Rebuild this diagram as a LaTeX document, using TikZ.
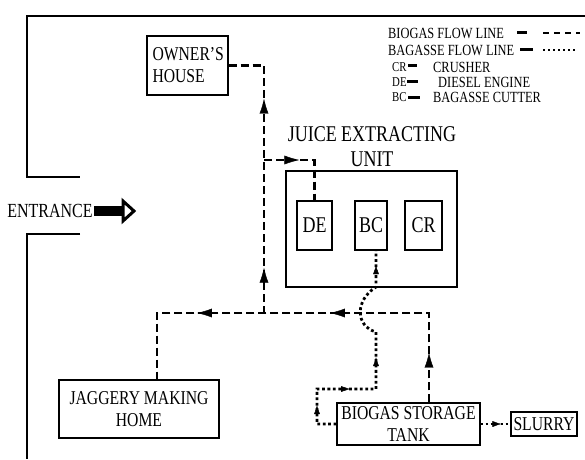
\documentclass[tikz,border=0pt]{standalone}
\usepackage{fontspec}
\setmainfont[FakeStretch=0.8]{Liberation Serif}
\usetikzlibrary{arrows.meta,decorations.markings}
\begin{document}
\begin{tikzpicture}[x=1pt,y=-1pt,
  box/.style={draw, line width=1.3pt, inner sep=0pt, align=center},
  main/.style={font=\fontsize{19.6}{22}\selectfont},
  big/.style={font=\fontsize{22.5}{25}\selectfont},
  leg/.style={font=\fontsize{15.5}{17}\selectfont, anchor=west, inner sep=0pt},
  legab/.style={font=\fontsize{13.5}{15}\selectfont, anchor=west, inner sep=0pt},
  gas/.style={line width=2.4pt, dash pattern=on 8pt off 4pt},
  bag/.style={line width=2.8pt, dash pattern=on 2.8pt off 2.6pt},
  slur/.style={line width=1.6pt, dash pattern=on 2pt off 3pt},
  legbar/.style={line width=3pt},
  arr/.style={postaction={decorate,decoration={markings,mark=at position #1 with {\arrow{Latex[length=15pt,width=9pt]}}}}},
  sarr/.style={postaction={decorate,decoration={markings,mark=at position #1 with {\arrow{Latex[length=9pt,width=6pt]}}}}}
]
\useasboundingbox (0,0) rectangle (585,459);

% outer boundary
\draw[line width=1.5pt] (585,16) -- (27,16) -- (27,177) -- (80,177);
\draw[line width=1.5pt] (80,234) -- (27,234) -- (27,459);

% entrance
\node[font=\fontsize{20}{22}\selectfont, inner sep=0pt] (entr) at (50,211) {ENTRANCE};
\fill (94,206) rectangle (122,216);
\draw[line width=3pt, fill=white, line join=miter] (123,201) -- (134,211) -- (123,221) -- cycle;

% boxes
\node[box, main, minimum width=81pt, minimum height=59pt, text width=70pt, align=left] (owner) at (187.5,65.5) {OWNER'S\\HOUSE};
\node[box, minimum width=171pt, minimum height=116pt] (unit) at (371.5,229) {};
\node[big, inner sep=0pt, align=center] (unittitle) at (372,147) {JUICE EXTRACTING\\UNIT};
\node[box, big, minimum width=35pt, minimum height=49pt] (DE) at (314.5,225.5) {DE};
\node[box, big, minimum width=32pt, minimum height=49pt] (BC) at (371,225.5) {BC};
\node[box, big, minimum width=37pt, minimum height=49pt] (CR) at (423.5,225.5) {CR};
\node[box, main, minimum width=160pt, minimum height=58pt] (jag) at (139,409) {JAGGERY MAKING\\HOME};
\node[box, main, minimum width=143pt, minimum height=42pt] (tank) at (408.5,424) {BIOGAS STORAGE\\TANK};
\node[box, main, minimum width=66pt, minimum height=24pt] (slurry) at (544,424) {SLURRY};

% legend
\node[leg] (lg1) at (388,33) {BIOGAS FLOW LINE};
\draw[legbar] (517,32) -- (527,32);
\draw[line width=2.3pt, dash pattern=on 6pt off 5pt] (543,33) -- (580,33);
\node[leg] (lg2) at (388,50) {BAGASSE FLOW LINE};
\draw[legbar] (520,49) -- (533,49);
\draw[line width=2pt, dash pattern=on 2pt off 3pt] (543,50) -- (577,50);
\node[legab] (lg3a) at (392,67) {CR};
\draw[legbar] (408,65) -- (417,65);
\node[leg] (lg3b) at (433,67) {CRUSHER};
\node[legab] (lg4a) at (392,82) {DE};
\draw[legbar] (407,81) -- (418,81);
\node[leg] (lg4b) at (438,82) {DIESEL ENGINE};
\node[legab] (lg5a) at (392,97) {BC};
\draw[legbar] (408,97) -- (420,97);
\node[leg] (lg5b) at (433,97) {BAGASSE CUTTER};

% biogas coordinates
\coordinate (c4) at (264,313);
\coordinate (c1) at (owner.east -| c4);
\coordinate (c2) at (264,160);
\coordinate (c3) at (c2 -| DE.north);
\coordinate (c5) at (429,313);
\coordinate (c6) at (157,313);
\coordinate (t1) at (c5 |- tank.north);
\coordinate (j1) at (c6 |- jag.north);

% biogas lines
\draw[gas] (owner.east) -- (c1) -- (c4);
\draw[gas] (c2) -- (c3) -- (DE.north);
\draw[gas] (t1) -- (c5) -- (c6) -- (j1);
\path[arr=0.183, arr=0.866] (c4) -- (c1);
\path[arr=0.7] (c2) -- (c3);
\path[arr=0.556] (t1) -- (c5);
\path[arr=0.364, arr=0.853] (c5) -- (c6);

% bagasse coordinates
\coordinate (b5) at (317,424);
\coordinate (b4) at (317,389);
\coordinate (b3) at (376,389);
\coordinate (b2) at (376,332);
\coordinate (b1) at (376,287);
\coordinate (bc0) at ([xshift=5pt]BC.south);

\draw[bag] (tank.west) -- (b5) -- (b4) -- (b3) -- (b2) .. controls (355,326) and (355,300) .. (b1) -- (bc0);
\path[sarr=0.54] (b5) -- (b4);
\path[sarr=0.56] (b4) -- (b3);
\path[sarr=0.56] (b3) -- (b2);
\path[sarr=0.6] (b1) -- (bc0);

% slurry
\draw[slur] (tank.east) -- (slurry.west);
\path[sarr=0.7] (tank.east) -- (slurry.west);
\end{tikzpicture}
\end{document}
